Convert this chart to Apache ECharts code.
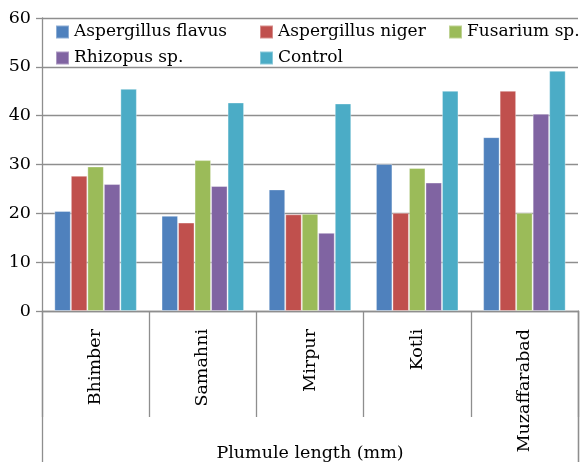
<!DOCTYPE html>
<html><head><meta charset="utf-8">
<script src="https://cdn.jsdelivr.net/npm/echarts@6/dist/echarts.min.js"></script>
<style>html,body{margin:0;padding:0;background:#fff}#c{width:581px;height:462px}</style>
</head><body><div id="c"></div>
<script>
var categories = ['Bhimber', 'Samahni', 'Mirpur', 'Kotli', 'Muzaffarabad'];
var seriesNames = ['Aspergillus flavus', 'Aspergillus niger', 'Fusarium sp.', 'Rhizopus sp.', 'Control'];
var aFlavus = [20.5, 19.5, 24.9, 30.1, 35.6];
var aNiger = [27.7, 18.1, 19.8, 20.1, 45.1];
var fusarium = [29.6, 30.9, 19.9, 29.3, 20.1];
var rhizopus = [26.0, 25.6, 16.0, 26.3, 40.4];
var control = [45.5, 42.7, 42.5, 45.1, 49.2];
var xTitle = ['Plumule length (mm)'];
var yTicks = {min: 0, max: 60, interval: 10};

var colors = ['#4F81BD', '#C0504D', '#9BBB59', '#8064A2', '#4BACC6'];
var values = [aFlavus, aNiger, fusarium, rhizopus, control];
var font = 'DejaVu Serif';
var fs = 17.5;
var gridColor = '#8e8e8e';

var legendBase = {
  orient: 'vertical', top: 16, itemWidth: 13, itemHeight: 13, itemGap: 4,
  icon: 'rect', textStyle: {fontFamily: font, fontSize: 17, color: '#000', lineHeight: 22}
};
var chart = echarts.init(document.getElementById('c'));
chart.setOption({
  animation: false,
  color: colors,
  legend: [
    Object.assign({}, legendBase, {left: 50, data: [seriesNames[0], seriesNames[3]]}),
    Object.assign({}, legendBase, {left: 254, data: [seriesNames[1], seriesNames[4]]}),
    Object.assign({}, legendBase, {left: 443, data: [seriesNames[2]]})
  ],
  grid: [
    {left: 42, right: 3, top: 18, bottom: 151, containLabel: false},
    {left: 42, right: 3, top: 311, bottom: 0, containLabel: false}
  ],
  xAxis: [{
    type: 'category', data: categories, position: 'bottom', gridIndex: 0,
    axisLine: {show: true, lineStyle: {color: gridColor, width: 1.3}},
    axisTick: {show: true, length: 106, lineStyle: {color: gridColor, width: 1.3}},
    axisLabel: {rotate: 90, margin: 18, fontFamily: font, fontSize: fs, color: '#000'},
    splitLine: {show: false}
  }, {
    type: 'category', data: xTitle, position: 'bottom', gridIndex: 0,
    axisLine: {show: false},
    axisTick: {show: true, length: 160, lineStyle: {color: gridColor, width: 1.3}},
    axisLabel: {margin: 133, fontFamily: font, fontSize: fs, color: '#000'},
    splitLine: {show: false}
  }, {
    type: 'category', data: xTitle, gridIndex: 1, show: false
  }],
  yAxis: [{
    type: 'value', min: yTicks.min, max: yTicks.max, interval: yTicks.interval, gridIndex: 0,
    axisLine: {show: true, lineStyle: {color: gridColor, width: 1.3}},
    axisTick: {show: true, length: 6, lineStyle: {color: gridColor, width: 1.3}},
    axisLabel: {margin: 11, fontFamily: font, fontSize: fs, color: '#000'},
    splitLine: {show: true, lineStyle: {color: gridColor, width: 1.3}}
  }, {
    type: 'value', gridIndex: 1, position: 'right', min: 0, max: 1,
    axisLine: {show: true, lineStyle: {color: gridColor, width: 1.3}},
    axisTick: {show: false}, axisLabel: {show: false}, splitLine: {show: false}
  }],
  series: seriesNames.map(function (n, i) {
    return {
      name: n, type: 'bar', data: values[i], xAxisIndex: 0, yAxisIndex: 0,
      barGap: '0%', barCategoryGap: '23%',
      itemStyle: {borderColor: 'rgba(255,255,255,0.35)', borderWidth: 1}
    };
  })
});
</script></body></html>
